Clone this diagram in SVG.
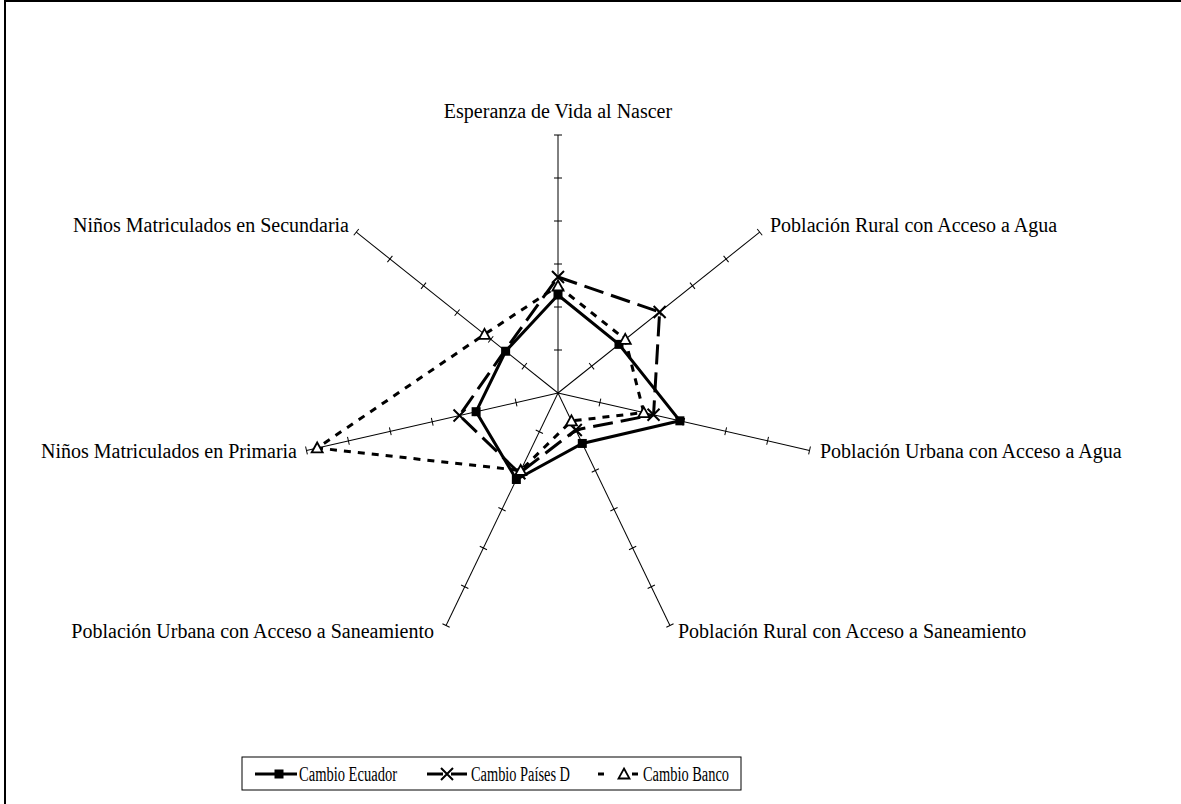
<svg xmlns="http://www.w3.org/2000/svg" xmlns:xlink="http://www.w3.org/1999/xlink" width="1181" height="804" viewBox="0 0 1181 804">
<style>
.lbl{font-family:"Liberation Serif","Times New Roman",serif;font-size:20px;fill:#000}
.leg{font-family:"Liberation Serif","Times New Roman",serif;font-size:20px;fill:#000}
.ax line{stroke:#000;stroke-width:1}
.s1{fill:none;stroke:#000;stroke-width:3;stroke-linejoin:miter}
.s2{fill:none;stroke:#000;stroke-width:3;stroke-dasharray:20 8}
.s3{fill:none;stroke:#000;stroke-width:3;stroke-dasharray:7 7}
</style>
<defs>
<g id="axis" class="ax">
<line x1="558" y1="393" x2="558" y2="135"/>
<line x1="554" y1="350" x2="562" y2="350"/>
<line x1="554" y1="307" x2="562" y2="307"/>
<line x1="554" y1="264" x2="562" y2="264"/>
<line x1="554" y1="221" x2="562" y2="221"/>
<line x1="554" y1="178" x2="562" y2="178"/>
<line x1="554" y1="135" x2="562" y2="135"/>
</g>
<rect id="sq" x="-4.5" y="-4.5" width="9" height="9" fill="#000"/>
<path id="xm" d="M-6,-6 L6,6 M-6,6 L6,-6" fill="none" stroke="#000" stroke-width="2"/>
<path id="tri" d="M0,-5.5 L5.5,4.5 L-5.5,4.5 Z" fill="#fff" stroke="#000" stroke-width="1.8"/>
</defs>
<rect width="1181" height="804" fill="#fff"/>
<path d="M5,804 V1 H1181" fill="none" stroke="#000" stroke-width="2"/>

<g id="axes">
<use xlink:href="#axis"/>
<use xlink:href="#axis" transform="rotate(51.4286 558 393)"/>
<use xlink:href="#axis" transform="rotate(102.8571 558 393)"/>
<use xlink:href="#axis" transform="rotate(154.2857 558 393)"/>
<use xlink:href="#axis" transform="rotate(205.7143 558 393)"/>
<use xlink:href="#axis" transform="rotate(257.1429 558 393)"/>
<use xlink:href="#axis" transform="rotate(308.5714 558 393)"/>
</g>

<g id="labels">
<text id="lbl-esperanza" class="lbl" x="558" y="118" text-anchor="middle">Esperanza de Vida al Nascer</text>
<text id="lbl-rural-agua" class="lbl" x="770" y="232">Población Rural con Acceso a Agua</text>
<text id="lbl-urbana-agua" class="lbl" x="820" y="458">Población Urbana con Acceso a Agua</text>
<text id="lbl-rural-san" class="lbl" x="678" y="638">Población Rural con Acceso a Saneamiento</text>
<text id="lbl-urbana-san" class="lbl" x="434" y="638" text-anchor="end">Población Urbana con Acceso a Saneamiento</text>
<text id="lbl-primaria" class="lbl" x="297" y="458" text-anchor="end">Niños Matriculados en Primaria</text>
<text id="lbl-secundaria" class="lbl" x="349" y="232" text-anchor="end">Niños Matriculados en Secundaria</text>
</g>

<g id="connectors">
<g id="serie-ecuador">
<polygon class="s1" points="558,295 618.98,344.37 679.87,420.82 582.3,443.45 516.35,479.49 476.11,411.69 505.62,351.23"/>
<use xlink:href="#sq" x="558" y="295"/>
<use xlink:href="#sq" x="618.98" y="344.37"/>
<use xlink:href="#sq" x="679.87" y="420.82"/>
<use xlink:href="#sq" x="582.3" y="443.45"/>
<use xlink:href="#sq" x="516.35" y="479.49"/>
<use xlink:href="#sq" x="476.11" y="411.69"/>
<use xlink:href="#sq" x="505.62" y="351.23"/>
</g>
<g id="serie-paises">
<polygon class="s2" points="558,277 659.64,311.95 653.54,414.81 575.79,429.94 519.38,473.19 459.53,415.47 504.84,350.6"/>
<use xlink:href="#xm" x="558" y="277"/>
<use xlink:href="#xm" x="659.64" y="311.95"/>
<use xlink:href="#xm" x="653.54" y="414.81"/>
<use xlink:href="#xm" x="575.79" y="429.94"/>
<use xlink:href="#xm" x="519.38" y="473.19"/>
<use xlink:href="#xm" x="459.53" y="415.47"/>
</g>
<g id="serie-banco">
<polygon class="s3" points="558,286 625.24,339.38 643.79,412.58 571.45,420.93 520.69,470.48 317.19,447.96 484.51,334.39"/>
<use xlink:href="#tri" x="558" y="286"/>
<use xlink:href="#tri" x="625.24" y="339.38"/>
<use xlink:href="#tri" x="643.79" y="412.58"/>
<use xlink:href="#tri" x="571.45" y="420.93"/>
<use xlink:href="#tri" x="520.69" y="470.48"/>
<use xlink:href="#tri" x="317.19" y="447.96"/>
<use xlink:href="#tri" x="484.51" y="334.39"/>
</g>
</g>

<g id="legend">
<rect x="242" y="757" width="499" height="33" fill="#fff" stroke="#000" stroke-width="1"/>
<line x1="255" y1="774" x2="297" y2="774" stroke="#000" stroke-width="3"/>
<use xlink:href="#sq" x="279" y="774"/>
<text class="leg" x="299" y="781" textLength="98" lengthAdjust="spacingAndGlyphs">Cambio Ecuador</text>
<line x1="427" y1="774" x2="443" y2="774" stroke="#000" stroke-width="3"/>
<line x1="451" y1="774" x2="467" y2="774" stroke="#000" stroke-width="3"/>
<use xlink:href="#xm" x="447" y="774"/>
<text class="leg" x="471" y="781" textLength="99" lengthAdjust="spacingAndGlyphs">Cambio Países D</text>
<line x1="598" y1="774" x2="604" y2="774" stroke="#000" stroke-width="3"/>
<line x1="632" y1="774" x2="638" y2="774" stroke="#000" stroke-width="3"/>
<use xlink:href="#tri" x="624" y="774"/>
<text class="leg" x="643" y="781" textLength="86" lengthAdjust="spacingAndGlyphs">Cambio Banco</text>
</g>
</svg>
